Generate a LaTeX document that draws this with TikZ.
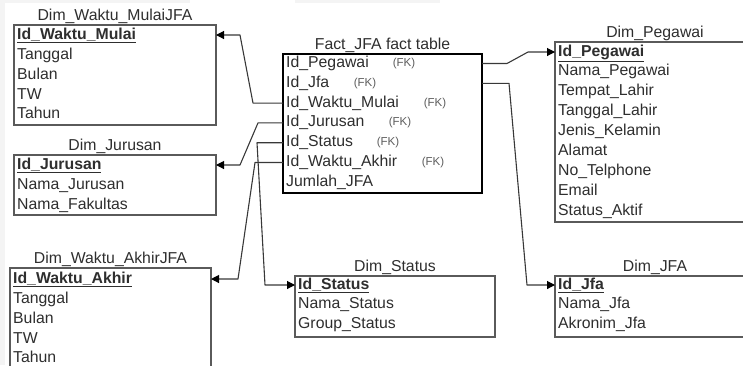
\documentclass[tikz,border=0pt]{standalone}
\usepackage{fontspec}
\setmainfont{Liberation Sans}
\usetikzlibrary{arrows.meta}

\definecolor{ink}{HTML}{2E2E2E}
\definecolor{frame}{HTML}{5A5A5A}
\definecolor{wire}{HTML}{383838}
\definecolor{fkgray}{HTML}{5E5E5E}
\definecolor{haze}{HTML}{F4F4F4}

\newcommand{\pk}[1]{\textbf{\underline{#1}}}

\tikzset{
  tablebox/.style={draw=frame, line width=1.6pt, fill=white, anchor=north west,
                   inner sep=0pt, outer sep=0pt},
  facttable/.style={draw=black, line width=2.6pt, fill=white, anchor=north west,
                    inner sep=0pt, outer sep=0pt},
  title/.style={anchor=south, inner sep=1.5pt, text=ink,
                font=\fontsize{15.8}{18}\selectfont, text height=11pt, text depth=3pt},
  field/.style={anchor=west, inner sep=0pt, text=ink,
                font=\fontsize{15.8}{18}\selectfont, text height=11pt, text depth=3pt},
  fk/.style={inner sep=0pt, text=fkgray, font=\fontsize{11.5}{13}\selectfont},
  link/.style={draw=wire, line width=1.1pt, line join=round,
               -{Triangle[length=8pt,width=8pt,fill=black,color=black]}},
}

\begin{document}
\begin{tikzpicture}[x=1pt,y=-1pt]
\useasboundingbox (0,0) rectangle (743,365);
\clip (0,0) rectangle (743,365);

% faint page edges
\fill[haze] (0,0) rectangle (5,365);
\fill[haze] (5,0) rectangle (190,3);
\fill[haze] (295,0) rectangle (440,3);

% ---- Dim_Waktu_MulaiJFA
\node[tablebox, minimum width=202pt, minimum height=100pt] (dwm) at (14,25) {};
\node[title] (dwmT) at (dwm.north) {Dim\_Waktu\_MulaiJFA};
\node[field] (dwm1) at (17,35)   {\pk{Id\_Waktu\_Mulai}};
\node[field] (dwm2) at (17,55)   {Tanggal};
\node[field] (dwm3) at (17,75)   {Bulan};
\node[field] (dwm4) at (17,95)   {TW};
\node[field] (dwm5) at (17,114)  {Tahun};

% ---- Dim_Jurusan
\node[tablebox, minimum width=202pt, minimum height=60pt] (djur) at (14,155) {};
\node[title] (djurT) at (djur.north) {Dim\_Jurusan};
\node[field] (djur1) at (17,165) {\pk{Id\_Jurusan}};
\node[field] (djur2) at (17,185) {Nama\_Jurusan};
\node[field] (djur3) at (17,205) {Nama\_Fakultas};

% ---- Dim_Waktu_AkhirJFA
\node[tablebox, minimum width=201pt, minimum height=112pt] (dwa) at (10,268) {};
\node[title] (dwaT) at (dwa.north) {Dim\_Waktu\_AkhirJFA};
\node[field] (dwa1) at (13,279)  {\pk{Id\_Waktu\_Akhir}};
\node[field] (dwa2) at (13,299)  {Tanggal};
\node[field] (dwa3) at (13,319)  {Bulan};
\node[field] (dwa4) at (13,339)  {TW};
\node[field] (dwa5) at (13,358)  {Tahun};

% ---- Fact_JFA fact table
\node[facttable, minimum width=199pt, minimum height=139pt] (fact) at (283,54) {};
\node[title] (factT) at (fact.north) {Fact\_JFA fact table};
\node[field] (fPeg) at (286,63.5)  {Id\_Pegawai};
\node[field] (fJfa) at (286,83.3)  {Id\_Jfa};
\node[field] (fWM)  at (286,103.1) {Id\_Waktu\_Mulai};
\node[field] (fJur) at (286,122.9) {Id\_Jurusan};
\node[field] (fSt)  at (286,142.7) {Id\_Status};
\node[field] (fWA)  at (286,162.5) {Id\_Waktu\_Akhir};
\node[field] (fJml) at (286,182.3) {Jumlah\_JFA};
\node[fk] (kPeg) at (404,63.5)  {(FK)};
\node[fk] (kJfa) at (365,83.3)  {(FK)};
\node[fk] (kWM)  at (435,103.1) {(FK)};
\node[fk] (kJur) at (400,122.9) {(FK)};
\node[fk] (kSt)  at (388,142.7) {(FK)};
\node[fk] (kWA)  at (433,162.5) {(FK)};

% ---- Dim_Pegawai
\node[tablebox, minimum width=200pt, minimum height=180pt] (dpeg) at (555,42) {};
\node[title] (dpegT) at (655,42) {Dim\_Pegawai};
\node[field] (dpeg1) at (558,52)  {\pk{Id\_Pegawai}};
\node[field] (dpeg2) at (558,71.9)  {Nama\_Pegawai};
\node[field] (dpeg3) at (558,91.8)  {Tempat\_Lahir};
\node[field] (dpeg4) at (558,111.7) {Tanggal\_Lahir};
\node[field] (dpeg5) at (558,131.6) {Jenis\_Kelamin};
\node[field] (dpeg6) at (558,151.5) {Alamat};
\node[field] (dpeg7) at (558,171.4) {No\_Telphone};
\node[field] (dpeg8) at (558,191.3) {Email};
\node[field] (dpeg9) at (558,211.2) {Status\_Aktif};

% ---- Dim_Status
\node[tablebox, minimum width=200pt, minimum height=61pt] (dst) at (295,276) {};
\node[title] (dstT) at (dst.north) {Dim\_Status};
\node[field] (dst1) at (298,285)   {\pk{Id\_Status}};
\node[field] (dst2) at (298,304.5) {Nama\_Status};
\node[field] (dst3) at (298,324)   {Group\_Status};

% ---- Dim_JFA
\node[tablebox, minimum width=200pt, minimum height=61pt] (djfa) at (555,276) {};
\node[title] (djfaT) at (655,276) {Dim\_JFA};
\node[field] (djfa1) at (558,285)   {\pk{Id\_Jfa}};
\node[field] (djfa2) at (558,304.5) {Nama\_Jfa};
\node[field] (djfa3) at (558,324)   {Akronim\_Jfa};

% ---- foreign key links
\draw[link] (fact.west |- fWM) -- ++(-30,0)
  -- ([xshift=24pt]dwm.east |- dwm1) -- (dwm.east |- dwm1);
\draw[link] (fact.west |- fJur) -- ++(-25,0)
  -- ([xshift=24pt]djur.east |- djur1) -- (djur.east |- djur1);
\draw[link] (fact.west |- fSt) -- ++(-26,0)
  -- ([xshift=-30pt]dst.west |- dst1) -- (dst.west |- dst1);
\draw[link] (fact.west |- fWA) -- ++(-28,0)
  -- ([xshift=27pt]dwa.east |- dwa1) -- (dwa.east |- dwa1);
\draw[link] (fact.east |- fPeg) -- ++(25,0)
  -- ([xshift=-27pt]dpeg.west |- dpeg1) -- (dpeg.west |- dpeg1);
\draw[link] (fact.east |- fJfa) -- ++(27,0)
  -- ([xshift=-28pt]djfa.west |- djfa1) -- (djfa.west |- djfa1);
\end{tikzpicture}
\end{document}
